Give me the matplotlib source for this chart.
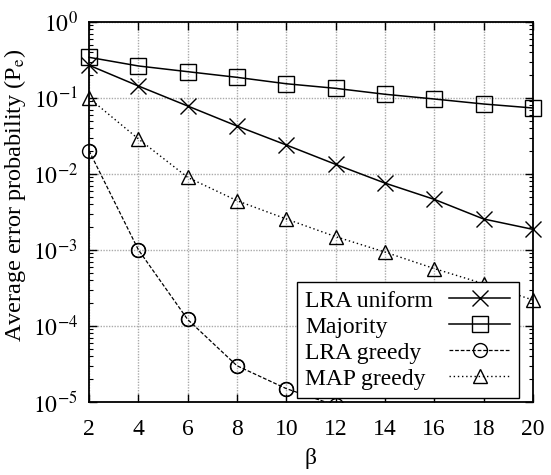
import numpy as np
import matplotlib
matplotlib.use('Agg')
import matplotlib.pyplot as plt

plt.rcParams['font.family'] = ['Liberation Serif', 'DejaVu Serif']
plt.rcParams['mathtext.fontset'] = 'stix'

beta = [2, 4, 6, 8, 10, 12, 14, 16, 18, 20]
lra_uniform = [0.27, 0.144, 0.0785, 0.0428, 0.0241, 0.0134, 0.0076, 0.00464, 0.00256, 0.00187]
majority = [0.343, 0.264, 0.222, 0.187, 0.154, 0.134, 0.112, 0.097, 0.0834, 0.0739]
lra_greedy_beta = [2, 4, 6, 8, 10, 12]
lra_greedy = [0.0203, 0.00101, 0.000122, 3.0e-5, 1.5e-5, 9.0e-6]
map_greedy = [0.1, 0.029, 0.00904, 0.00446, 0.00256, 0.0015, 0.00094, 0.00057, 0.00036, 0.00022]

fig = plt.figure(figsize=(5.51, 4.75), dpi=100)
ax = fig.add_axes([0.1615, 0.1537, 0.8055, 0.8])

h1, = ax.plot(beta, lra_uniform, color='black', lw=1.1, marker='x', ms=12, mew=1.0,
              clip_on=False, zorder=3, label='LRA uniform')
h2, = ax.plot(beta, majority, color='black', lw=1.1, marker='s', ms=12, mew=1.0,
              mfc='none', clip_on=False, zorder=3, label='Majority')
h3, = ax.plot(lra_greedy_beta, lra_greedy, color='black', lw=0.9, ls=(0, (3, 1.5)),
              marker='o', ms=10, mew=1.0, mfc='none', zorder=3, label='LRA greedy')
# markers that sit inside the range are drawn without clipping
gb = np.array(lra_greedy_beta)
gv = np.array(lra_greedy)
keep = gv >= 1e-5
ax.plot(gb[keep], gv[keep], ls='none', color='black', marker='o', ms=10, mew=1.0,
        mfc='none', clip_on=False, zorder=3)
h4, = ax.plot(beta, map_greedy, color='black', lw=1.0, ls=(0, (1, 2)), marker='^', ms=10,
              mew=1.0, mfc='none', clip_on=False, zorder=3, label='MAP greedy')

ax.set_yscale('log')
ax.set_xlim(2, 20)
ax.set_ylim(1e-5, 1)
ax.set_xticks(beta)
ax.set_yticks([1e-5, 1e-4, 1e-3, 1e-2, 1e-1, 1])
ax.set_yticklabels([r'$10^{-5}$', r'$10^{-4}$', r'$10^{-3}$', r'$10^{-2}$', r'$10^{-1}$', r'$10^{0}$'])
ax.tick_params(which='both', direction='in', top=True, right=True, labelsize=17)
ax.tick_params(which='major', length=6, width=1)
ax.tick_params(which='minor', length=3, width=0.8)
ax.tick_params(axis='x', pad=12)
ax.tick_params(axis='y', pad=8)
ax.grid(True, which='major', color='#aaaaaa', ls=(0, (1, 1)), lw=1.0)
for s in ax.spines.values():
    s.set_linewidth(1.3)

ax.set_xlabel('β', fontsize=17, labelpad=6)
ax.set_ylabel(r'Average error probability (P$_\mathrm{e}$)', fontsize=17.5)
ax.yaxis.set_label_coords(-0.138, 0.545)

leg = ax.legend(handles=[h1, h2, h3, h4], loc='lower right', bbox_to_anchor=(0.968, 0.0105),
                borderaxespad=0, fontsize=17, markerfirst=False, handlelength=2.6,
                labelspacing=0.19, handletextpad=0.5, borderpad=0.35, fancybox=False,
                framealpha=1, edgecolor='black')
leg.get_frame().set_linewidth(1.0)
# text flush left, handles flush right, as in the original
for col in leg._legend_handle_box.get_children():
    col.width = 205
    for item in col.get_children():
        item.mode = 'expand'

fig.savefig('out.png', dpi=100)
